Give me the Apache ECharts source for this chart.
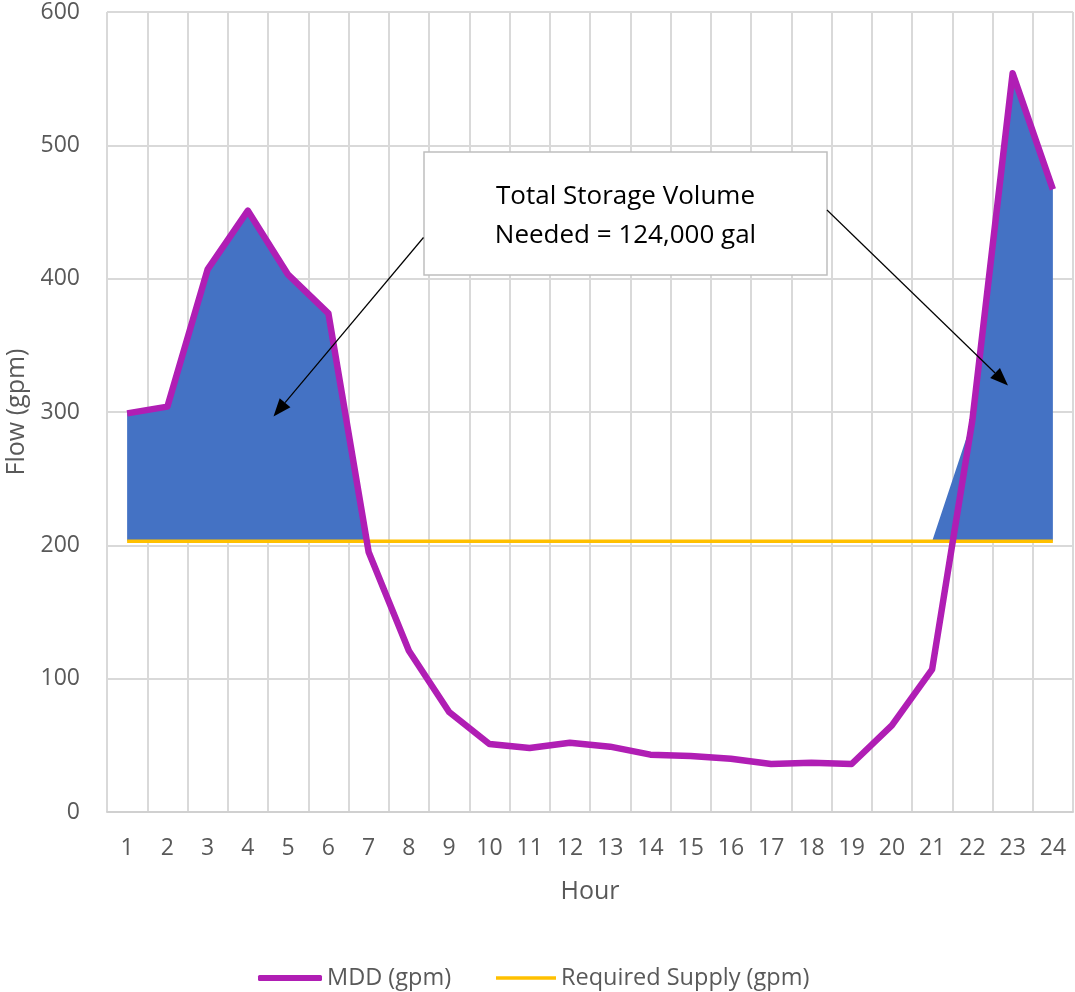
<!DOCTYPE html>
<html>
<head>
<meta charset="utf-8">
<script src="https://cdn.jsdelivr.net/npm/echarts@6/dist/echarts.min.js"></script>
<style>
html,body{margin:0;padding:0;background:#fff;}
#chart{width:1075px;height:992px;}
</style>
</head>
<body>
<div id="chart"></div>
<script>
const hours = ['1','2','3','4','5','6','7','8','9','10','11','12','13','14','15','16','17','18','19','20','21','22','23','24'];
const mdd = [299,304,407,451,403,374,195,121,75,51,48,52,49,43,42,40,36,37,36,65,107,294,554,467];
const supply = [203,203,203,203,203,203,203,203,203,203,203,203,203,203,203,203,203,203,203,203,203,203,203,203];
const yTicks = [0,100,200,300,400,500,600];
const annotationLines = ['Total Storage Volume', 'Needed = 124,000 gal'];

// storage volume area = portion of MDD above required supply
const storageAbove = mdd.map((v, i) => Math.max(v - supply[i], 0));

const FONT = '"Open Sans", "Noto Sans", sans-serif';
const chart = echarts.init(document.getElementById('chart'), null, {renderer: 'canvas'});

function arrow(x1, y1, x2, y2) {
  const dx = x2 - x1, dy = y2 - y1;
  const len = Math.sqrt(dx*dx + dy*dy);
  const ux = dx / len, uy = dy / len;
  const hl = 18, hw = 7;
  const bx = x2 - ux * hl, by = y2 - uy * hl;
  return [
    {type: 'line', shape: {x1: x1, y1: y1, x2: bx, y2: by}, style: {stroke: '#000', lineWidth: 1.2}, z: 100},
    {type: 'polygon', shape: {points: [[x2, y2], [bx - uy * hw, by + ux * hw], [bx + uy * hw, by - ux * hw]]}, style: {fill: '#000'}, z: 100}
  ];
}

const legendText = {fontFamily: FONT, fontSize: 23.5, color: '#595959'};

const option = {
  animation: false,
  backgroundColor: '#fff',
  grid: {left: 107, right: 2, top: 12, bottom: 180, containLabel: false, outerBoundsMode: 'none'},
  legend: [
    {
      left: 253,
      top: 961,
      itemWidth: 64,
      itemHeight: 6,
      itemGap: 4,
      data: [{name: 'MDD (gpm)', icon: 'roundRect'}],
      textStyle: legendText
    },
    {
      left: 491,
      top: 961,
      itemWidth: 60,
      itemHeight: 3.5,
      data: [{name: 'Required Supply (gpm)', icon: 'rect'}],
      textStyle: legendText
    }
  ],
  xAxis: {
    type: 'category',
    data: hours,
    boundaryGap: true,
    name: 'Hour',
    nameLocation: 'middle',
    nameGap: 67,
    nameTextStyle: {fontFamily: FONT, fontSize: 25, color: '#595959'},
    axisLine: {show: true, lineStyle: {color: '#d0d0d0', width: 2}},
    axisTick: {show: false},
    axisLabel: {fontFamily: FONT, fontSize: 23, color: '#595959', margin: 25, interval: 0},
    splitLine: {show: true, interval: 0, lineStyle: {color: '#d9d9d9', width: 2}}
  },
  yAxis: {
    type: 'value',
    min: yTicks[0],
    max: yTicks[yTicks.length - 1],
    interval: 100,
    name: 'Flow (gpm)',
    nameLocation: 'middle',
    nameRotate: 90,
    nameGap: 77,
    nameTextStyle: {fontFamily: FONT, fontSize: 25, color: '#595959'},
    axisLine: {show: false},
    axisTick: {show: false},
    axisLabel: {fontFamily: FONT, fontSize: 23, color: '#595959', margin: 27},
    splitLine: {show: true, lineStyle: {color: '#d9d9d9', width: 2}}
  },
  series: [
    {
      name: 'base',
      type: 'line',
      stack: 'storage',
      data: supply,
      symbol: 'none',
      lineStyle: {width: 0, opacity: 0},
      silent: true,
      z: 1
    },
    {
      name: 'Storage',
      type: 'line',
      stack: 'storage',
      data: storageAbove,
      symbol: 'none',
      lineStyle: {width: 0, opacity: 0},
      areaStyle: {color: '#4472C4', opacity: 1},
      silent: true,
      z: 2
    },
    {
      name: 'Required Supply (gpm)',
      type: 'line',
      data: supply,
      symbol: 'none',
      lineStyle: {color: '#FFC000', width: 3.5},
      itemStyle: {color: '#FFC000'},
      z: 3
    },
    {
      name: 'MDD (gpm)',
      type: 'line',
      data: mdd,
      symbol: 'none',
      lineStyle: {color: '#B01EB4', width: 6.5, join: 'round'},
      itemStyle: {color: '#B01EB4'},
      z: 4
    }
  ],
  graphic: [
    {
      type: 'rect',
      shape: {x: 424, y: 152, width: 403, height: 123},
      style: {fill: '#fff', stroke: '#bfbfbf', lineWidth: 1.5},
      z: 100
    },
    {
      type: 'text',
      x: 625.5, y: 197,
      style: {text: annotationLines[0], fill: '#000', font: '26px ' + FONT, textAlign: 'center', textVerticalAlign: 'middle'},
      z: 101
    },
    {
      type: 'text',
      x: 625.5, y: 236,
      style: {text: annotationLines[1], fill: '#000', font: '26px ' + FONT, textAlign: 'center', textVerticalAlign: 'middle'},
      z: 101
    }
  ].concat(arrow(423.5, 237.5, 273.5, 416.5)).concat(arrow(827, 210, 1008, 385.5))
};
chart.setOption(option);
</script>
</body>
</html>
